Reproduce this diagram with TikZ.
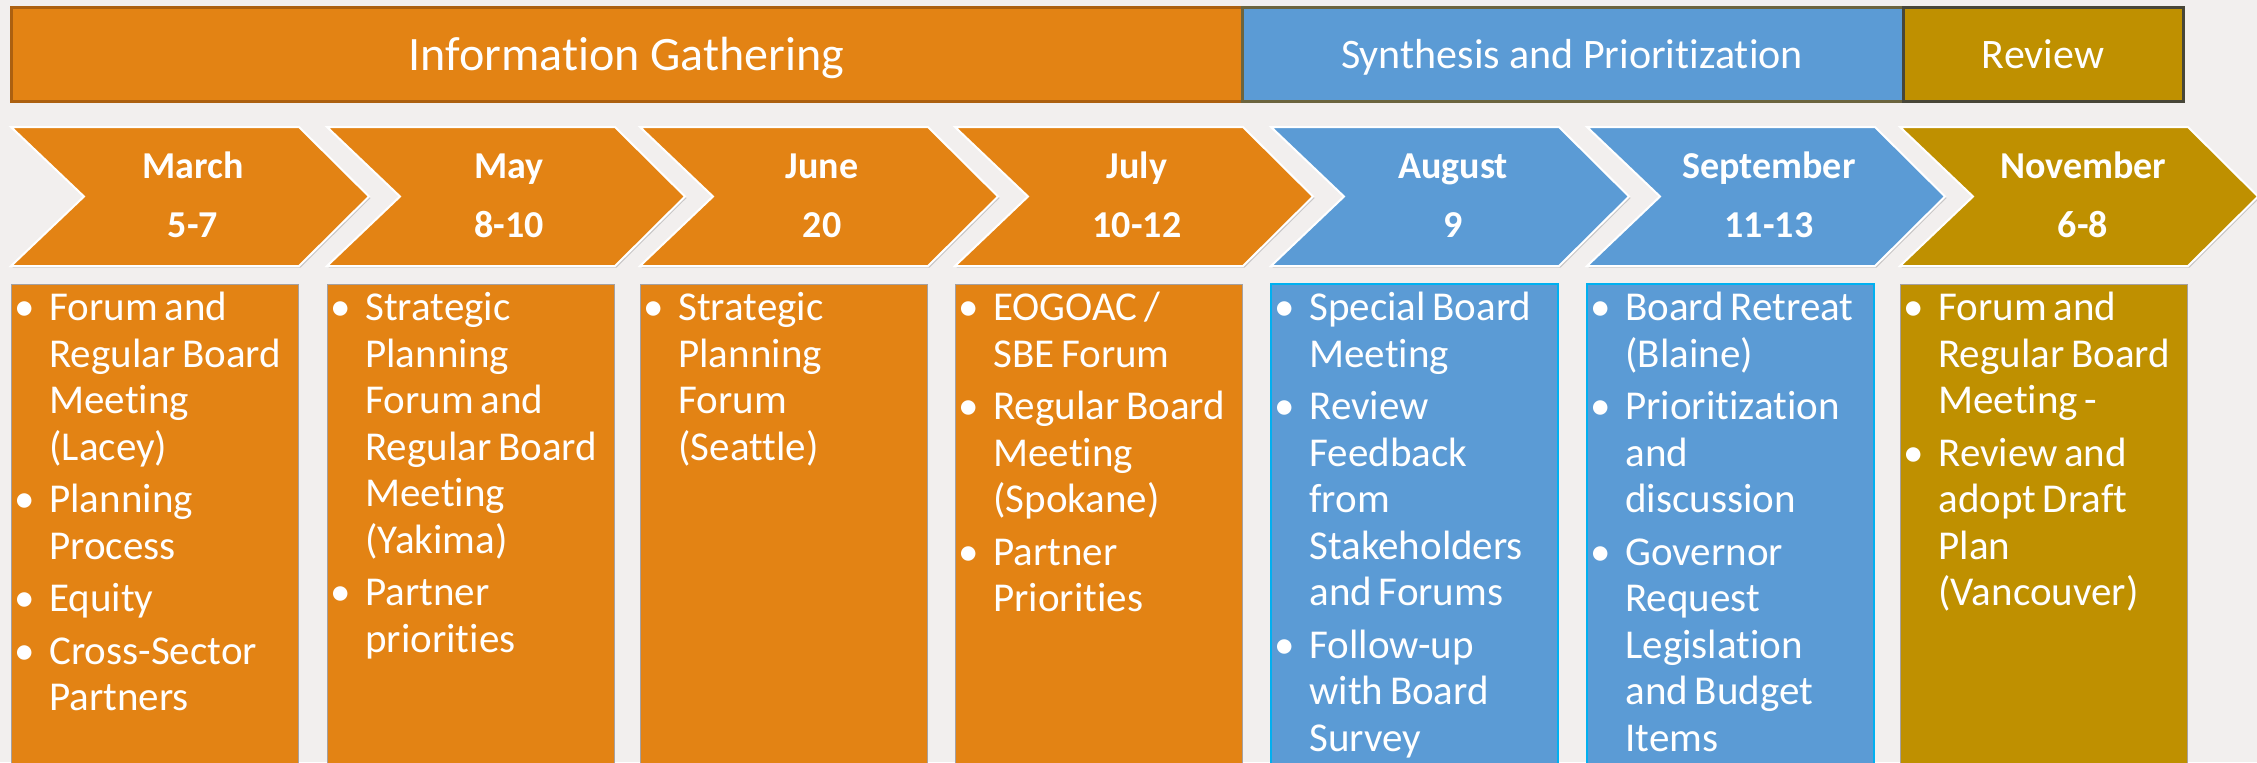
\documentclass[tikz,border=0pt]{standalone}
\usepackage{fontspec}
\setmainfont{Carlito}[Ligatures=NoCommon]
\definecolor{bg}{RGB}{242,239,238}
\definecolor{ora}{RGB}{227,131,20}
\definecolor{oraedge}{RGB}{172,96,16}
\definecolor{blu}{RGB}{91,155,213}
\definecolor{bluedge}{RGB}{108,100,62}
\definecolor{gld}{RGB}{191,144,0}
\definecolor{gldedge}{RGB}{72,70,56}
\definecolor{cyn}{RGB}{0,176,240}
\definecolor{shd}{RGB}{200,198,198}
\definecolor{boxedge}{RGB}{165,160,160}
\newcommand\bitem[1]{\par\hangindent=17.5pt\hangafter=1\noindent\strut\makebox[17.5pt][l]{\textbullet}#1\par}
\newcommand\lst{\fontsize{20.5pt}{23.25pt}\selectfont\setlength\parskip{3pt}\raggedright}
\newcommand\chev[2]{%
  \fill[shd,shift={(1.5,1.5)}] (#1,127) -- ++(288,0) -- ++(70,69.5) -- ++(-70,69.5) -- ++(-288,0) -- ++(73,-69.5) -- cycle;
  \draw[fill=#2,draw=white,line width=1pt] (#1,127) -- ++(288,0) -- ++(70,69.5) -- ++(-70,69.5) -- ++(-288,0) -- ++(73,-69.5) -- cycle;}
\begin{document}
\begin{tikzpicture}[x=0.5pt,y=-0.5pt,
  bar/.style={line width=1.5pt},
  bigtext/.style={text=white,font=\fontsize{24pt}{28pt}\selectfont,anchor=base,inner sep=0pt},
  bartext/.style={text=white,font=\fontsize{21pt}{25pt}\selectfont,anchor=base,inner sep=0pt},
  mon/.style={text=white,font=\fontsize{19pt}{22pt}\selectfont\bfseries,anchor=base,inner sep=0pt},
  list/.style={text=white,anchor=north west,inner sep=0pt,text width=138pt},
  obox/.style={fill=ora,draw=boxedge,line width=0.5pt},
  bbox/.style={fill=blu,draw=cyn,line width=1pt},
  gbox/.style={fill=gld,draw=boxedge,line width=0.5pt}]
\useasboundingbox (0,0) rectangle (2257,762);
\fill[bg] (0,0) rectangle (2257,762);

% phase bars
\draw[bar,fill=ora,draw=oraedge] (11,7) rectangle (1242,101);
\draw[bar,fill=blu,draw=bluedge] (1242,7) rectangle (1903,101);
\draw[bar,fill=gld,draw=gldedge] (1903,7) rectangle (2183,101);
\node[bigtext] (ig) at (626.5,70) {Information Gathering};
\node[bartext] (sp) at (1572,68) {Synthesis and Prioritization};
\node[bartext] (rv) at (2043,68) {Review};

% chevrons
\chev{11}{ora}
\chev{327}{ora}
\chev{640}{ora}
\chev{955}{ora}
\chev{1271}{blu}
\chev{1587}{blu}
\chev{1900}{gld}

\node[mon] (m0) at (193,178) {March};
\node[mon] (d0) at (193,237) {5-7};
\node[mon] (m1) at (509,178) {May};
\node[mon] (d1) at (509,237) {8-10};
\node[mon] (m2) at (822,178) {June};
\node[mon] (d2) at (822,237) {20};
\node[mon] (m3) at (1137,178) {July};
\node[mon] (d3) at (1137,237) {10-12};
\node[mon] (m4) at (1453,178) {August};
\node[mon] (d4) at (1453,237) {9};
\node[mon] (m5) at (1769,178) {September};
\node[mon] (d5) at (1769,237) {11-13};
\node[mon] (m6) at (2083,178) {November};
\node[mon] (d6) at (2083,237) {6-8};

% detail boxes
\draw[obox] (11,284) rectangle ++(287,490);
\draw[obox] (327,284) rectangle ++(287,490);
\draw[obox] (640,284) rectangle ++(287,490);
\draw[obox] (955,284) rectangle ++(287,490);
\draw[bbox] (1271,284) rectangle ++(287,490);
\draw[bbox] (1587,284) rectangle ++(287,490);
\draw[gbox] (1900,284) rectangle ++(287,490);

\node[list] (b0) at (14,268) {\lst
  \bitem{Forum and\newline Regular Board\newline Meeting\newline (Lacey)}
  \bitem{Planning\newline Process}
  \bitem{Equity}
  \bitem{Cross-Sector\newline Partners}};
\node[list] (b1) at (330,268) {\lst
  \bitem{Strategic\newline Planning\newline Forum and\newline Regular Board\newline Meeting\newline (Yakima)}
  \bitem{Partner\newline priorities}};
\node[list] (b2) at (643,268) {\lst
  \bitem{Strategic\newline Planning\newline Forum\newline (Seattle)}};
\node[list] (b3) at (958,268) {\lst
  \bitem{EOGOAC /\newline SBE Forum}
  \bitem{Regular Board\newline Meeting\newline (Spokane)}
  \bitem{Partner\newline Priorities}};
\node[list] (b4) at (1274,268) {\lst
  \bitem{Special Board\newline Meeting}
  \bitem{Review\newline Feedback\newline from\newline Stakeholders\newline and Forums}
  \bitem{Follow-up\newline with Board\newline Survey}};
\node[list] (b5) at (1590,268) {\lst
  \bitem{Board Retreat\newline (Blaine)}
  \bitem{Prioritization\newline and\newline discussion}
  \bitem{Governor\newline Request\newline Legislation\newline and Budget\newline Items}};
\node[list] (b6) at (1903,268) {\lst
  \bitem{Forum and\newline Regular Board\newline Meeting -}
  \bitem{Review and\newline adopt Draft\newline Plan\newline (Vancouver)}};
\end{tikzpicture}
\end{document}
